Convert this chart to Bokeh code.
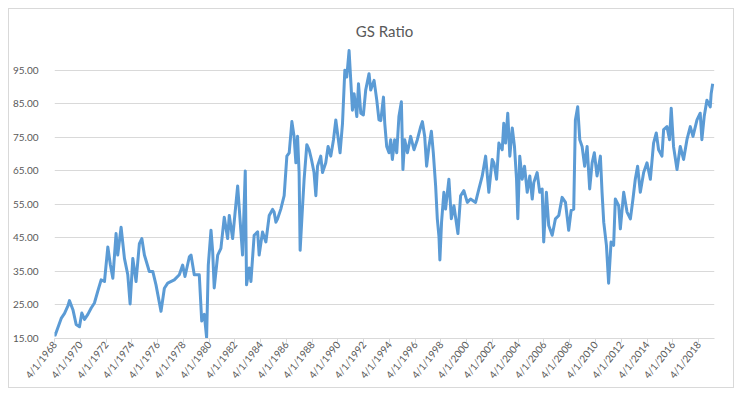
from bokeh.plotting import figure
from bokeh.layouts import column
from bokeh.models import FixedTicker, Range1d, InlineStyleSheet
from bokeh.embed import file_html
from bokeh.resources import INLINE

# ---- data (decimal year, GS ratio) ----
years = [
    1968.25, 1968.30, 1968.51, 1968.77, 1969.03, 1969.29, 1969.41, 1969.68, 1969.93, 1970.19,
    1970.37, 1970.58, 1970.84, 1971.10, 1971.35, 1971.61, 1971.87, 1972.13, 1972.39, 1972.59,
    1972.78, 1973.03, 1973.16, 1973.42, 1973.68, 1973.94, 1974.12, 1974.33, 1974.58, 1974.84,
    1975.03, 1975.23, 1975.61, 1975.88, 1976.13, 1976.52, 1976.78, 1977.04, 1977.55, 1977.94,
    1978.20, 1978.38, 1978.72, 1978.85, 1979.10, 1979.49, 1979.68, 1979.88, 1980.06, 1980.19,
    1980.40, 1980.53, 1980.65, 1980.92, 1981.17, 1981.43, 1981.69, 1981.82, 1982.08, 1982.26,
    1982.47, 1982.67, 1982.85, 1983.06, 1983.16, 1983.37, 1983.50, 1983.75, 1984.02, 1984.14,
    1984.40, 1984.66, 1984.92, 1985.18, 1985.30, 1985.44, 1985.57, 1985.82, 1986.08, 1986.29,
    1986.47, 1986.68, 1986.85, 1986.99, 1987.12, 1987.24, 1987.32, 1987.51, 1987.63, 1987.84,
    1988.02, 1988.20, 1988.40, 1988.54, 1988.67, 1988.92, 1989.06, 1989.31, 1989.49, 1989.70,
    1989.91, 1990.09, 1990.22, 1990.42, 1990.61, 1990.79, 1990.94, 1991.12, 1991.25, 1991.38,
    1991.51, 1991.72, 1991.85, 1992.03, 1992.23, 1992.41, 1992.67, 1992.80, 1993.06, 1993.27,
    1993.44, 1993.58, 1993.79, 1993.89, 1994.04, 1994.22, 1994.35, 1994.48, 1994.66, 1994.82,
    1994.99, 1995.18, 1995.30, 1995.44, 1995.65, 1995.90, 1996.16, 1996.42, 1996.68, 1996.81,
    1996.99, 1997.14, 1997.32, 1997.51, 1997.66, 1997.84, 1997.97, 1998.10, 1998.17, 1998.30,
    1998.48, 1998.61, 1998.87, 1999.06, 1999.26, 1999.57, 1999.78, 2000.03, 2000.30, 2000.55,
    2000.94, 2001.20, 2001.46, 2001.72, 2001.97, 2002.23, 2002.36, 2002.49, 2002.57, 2002.75,
    2003.01, 2003.13, 2003.27, 2003.44, 2003.60, 2003.79, 2003.96, 2004.12, 2004.22, 2004.37,
    2004.56, 2004.74, 2004.95, 2005.15, 2005.34, 2005.46, 2005.72, 2005.92, 2006.11, 2006.23,
    2006.44, 2006.62, 2006.89, 2007.14, 2007.40, 2007.66, 2007.92, 2008.17, 2008.36, 2008.56,
    2008.69, 2008.87, 2009.03, 2009.21, 2009.41, 2009.60, 2009.80, 2009.99, 2010.16, 2010.37,
    2010.63, 2010.76, 2010.89, 2011.10, 2011.27, 2011.46, 2011.66, 2011.79, 2012.05, 2012.18,
    2012.44, 2012.70, 2012.96, 2013.16, 2013.34, 2013.52, 2013.73, 2013.99, 2014.25, 2014.51,
    2014.76, 2014.97, 2015.15, 2015.41, 2015.54, 2015.80, 2016.00, 2016.13, 2016.31, 2016.58,
    2016.83, 2017.09, 2017.35, 2017.61, 2017.82, 2018.13, 2018.38, 2018.51, 2018.69, 2018.90,
    2019.16, 2019.23, 2019.35,
]
ratio = [
    17.0, 16.0, 18.2, 21.0, 22.5, 24.7, 26.3, 23.6, 19.2, 18.5,
    22.6, 20.7, 22.2, 24.1, 25.6, 29.1, 32.5, 32.0, 42.3, 36.9,
    33.0, 46.3, 39.9, 48.2, 38.9, 34.0, 25.3, 38.9, 32.0, 43.3,
    44.8, 39.9, 35.0, 35.0, 31.0, 23.1, 30.0, 31.5, 32.5, 34.0,
    36.9, 33.5, 39.4, 39.9, 34.0, 34.0, 20.2, 22.2, 15.3, 36.9,
    47.3, 40.9, 30.1, 39.9, 41.9, 51.2, 44.8, 51.7, 44.8, 52.2,
    60.5, 49.7, 39.9, 65.0, 31.0, 36.0, 32.0, 45.8, 46.8, 39.9,
    46.8, 43.8, 51.7, 53.5, 52.7, 49.7, 50.7, 53.6, 57.6, 69.4,
    70.4, 79.7, 75.3, 67.4, 75.3, 64.5, 41.3, 54.6, 62.5, 72.8,
    71.3, 68.4, 64.5, 57.6, 66.4, 69.4, 64.5, 67.4, 72.3, 69.4,
    74.3, 80.2, 76.3, 70.4, 79.2, 95.0, 93.0, 100.9, 92.0, 83.1,
    88.0, 81.2, 91.0, 82.2, 81.7, 89.1, 94.0, 89.1, 92.0, 86.1,
    80.2, 80.0, 87.0, 79.2, 72.3, 70.4, 74.3, 68.4, 74.3, 70.4,
    81.2, 85.6, 65.4, 74.3, 70.4, 75.3, 71.3, 74.3, 78.2, 79.7,
    75.3, 66.4, 72.3, 76.8, 70.4, 60.5, 50.7, 45.3, 38.4, 49.7,
    58.6, 53.6, 62.5, 50.7, 54.6, 46.3, 57.6, 59.1, 55.6, 56.6,
    55.6, 59.6, 63.5, 69.4, 58.6, 68.4, 67.4, 64.5, 62.5, 73.3,
    71.3, 79.2, 73.3, 82.2, 69.4, 77.8, 72.3, 62.5, 50.7, 69.4,
    62.5, 66.4, 58.6, 63.5, 56.6, 61.5, 64.5, 58.6, 59.6, 43.8,
    58.6, 48.7, 45.8, 50.7, 51.7, 57.1, 55.6, 47.3, 53.2, 53.6,
    80.2, 84.1, 74.3, 72.3, 66.4, 72.3, 59.6, 67.4, 70.4, 63.5,
    69.4, 58.6, 49.7, 42.8, 31.5, 43.8, 42.8, 56.6, 54.6, 47.7,
    58.6, 52.7, 50.7, 56.6, 62.5, 66.4, 58.6, 64.5, 67.4, 62.5,
    73.3, 76.3, 71.3, 69.4, 77.3, 78.2, 74.3, 83.7, 72.3, 65.4,
    72.3, 68.4, 74.3, 78.2, 75.3, 80.2, 82.2, 74.3, 81.2, 86.1,
    84.1, 88.0, 91.0,
]

x_tick_labels = ["4/1/%d" % y for y in range(1968, 2019, 2)]
y_tick_values = [15, 25, 35, 45, 55, 65, 75, 85, 95]
y_tick_labels = ["15.00", "25.00", "35.00", "45.00", "55.00", "65.00", "75.00", "85.00", "95.00"]
title_text = "GS Ratio"


def to_decimal_year(label):
    m, d, y = [int(v) for v in label.split("/")]
    return y + (m - 1) / 12.0


x_tick_pos = [to_decimal_year(s) for s in x_tick_labels]

FONT = "Lato"
GREY = "#595959"
GRID = "#d9d9d9"
W, H = 724, 378

p = figure(
    width=W, height=H,
    output_backend="svg", toolbar_location=None,
    x_range=Range1d(x_tick_pos[0], 2019.49),
    y_range=Range1d(15, 102.4),
    min_border_left=44, min_border_right=19,
    min_border_top=36, min_border_bottom=46,
    title=title_text,
)
p.outline_line_color = None
p.background_fill_color = "white"
p.border_fill_color = "white"

p.title.align = "center"
p.title.offset = -13
p.title.text_font = FONT
p.title.text_font_size = "15px"
p.title.text_font_style = "normal"
p.title.text_color = GREY
p.title.standoff = 12

# x axis
p.xaxis.ticker = FixedTicker(ticks=x_tick_pos)
p.xaxis.major_label_overrides = {pos: lab for pos, lab in zip(x_tick_pos, x_tick_labels)}
p.xaxis.major_label_orientation = 0.9
p.xaxis.axis_line_color = GRID
p.xaxis.major_tick_line_color = GRID
p.xaxis.major_tick_out = 4
p.xaxis.major_tick_in = 0
p.xaxis.minor_tick_line_color = None
p.xaxis.major_label_standoff = 0
p.xaxis.major_label_text_font = FONT
p.xaxis.major_label_text_font_size = "10px"
p.xaxis.major_label_text_color = GREY

# y axis
p.yaxis.ticker = FixedTicker(ticks=y_tick_values)
p.yaxis.major_label_overrides = {v: lab for v, lab in zip(y_tick_values, y_tick_labels)}
p.yaxis.axis_line_color = None
p.yaxis.major_tick_line_color = None
p.yaxis.minor_tick_line_color = None
p.yaxis.major_label_standoff = 10
p.yaxis.major_label_text_font = FONT
p.yaxis.major_label_text_font_size = "10px"
p.yaxis.major_label_text_color = GREY

p.xgrid.grid_line_color = None
p.ygrid.ticker = FixedTicker(ticks=y_tick_values)
p.ygrid.grid_line_color = GRID

p.line(years, ratio, line_color="#5B9BD5", line_width=3, line_join="round")

# light grey chart-area border, offset by the page margin
frame_css = InlineStyleSheet(css=":host { border: 1px solid #d9d9d9 !important; }")
layout = column(p, stylesheets=[frame_css], margin=(8, 0, 0, 8))

open("out.html", "w").write(file_html(layout, INLINE))
